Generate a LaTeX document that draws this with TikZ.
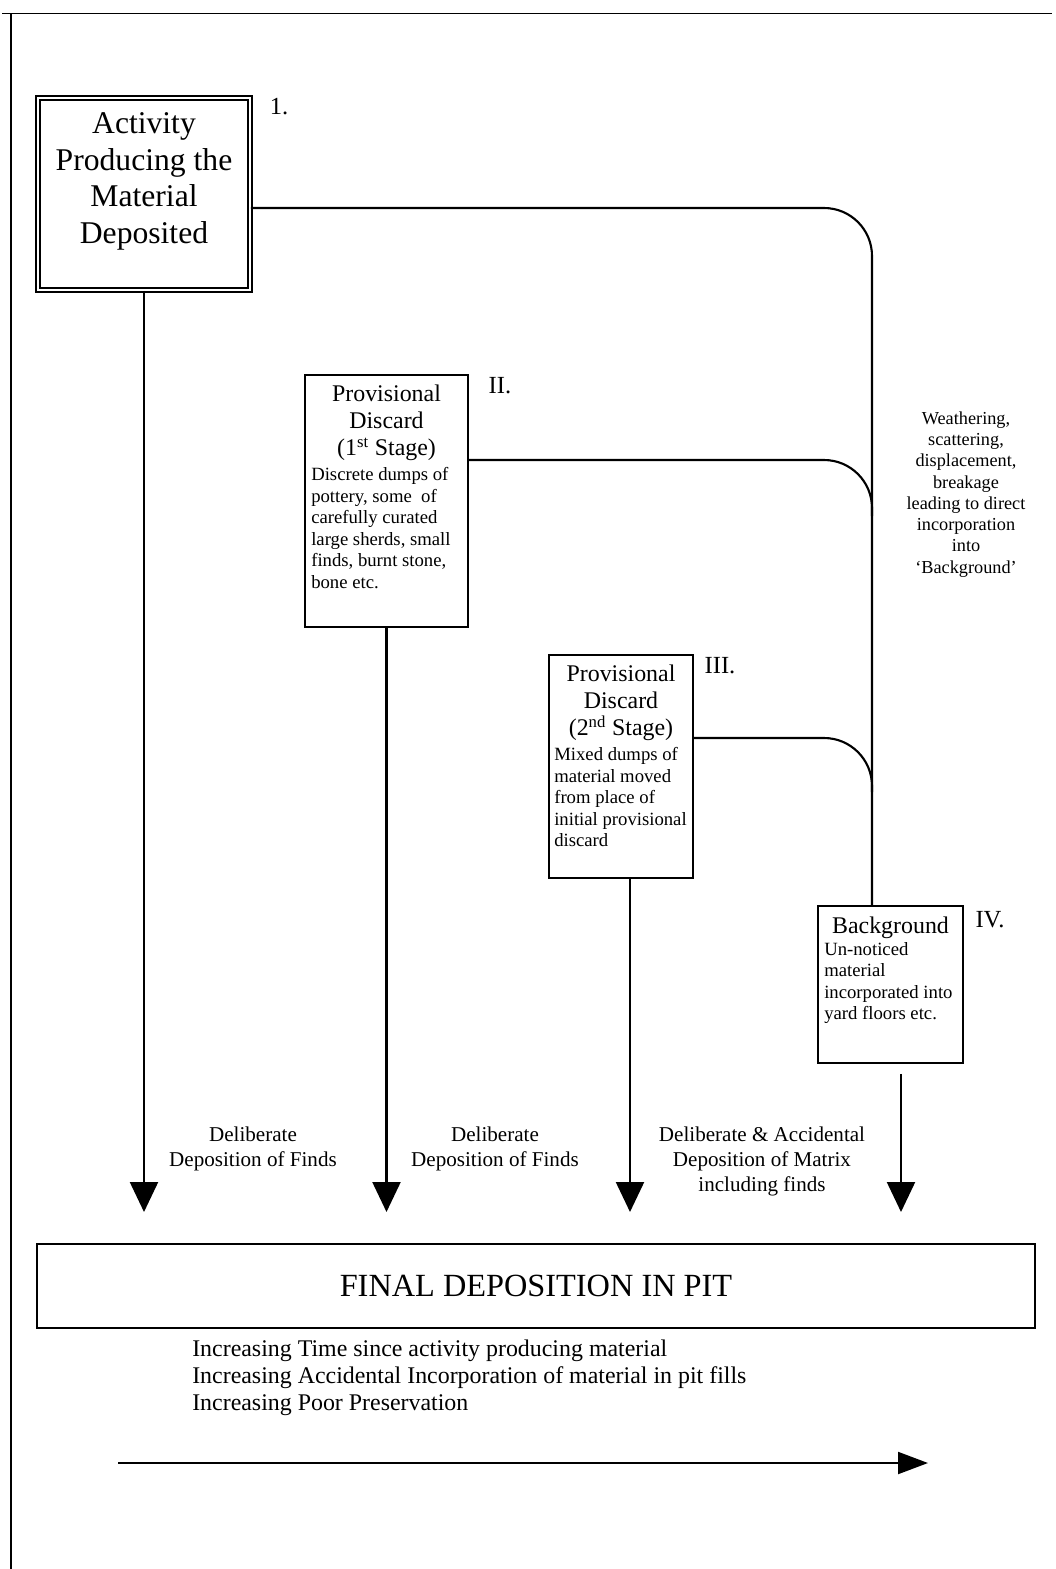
\documentclass[tikz,border=0pt]{standalone}
\usepackage{fontspec}
\setmainfont{Liberation Serif}
\usepackage{tikz}
\usetikzlibrary{calc,positioning,arrows.meta}
\setlength{\parindent}{0pt}

\begin{document}
\begin{tikzpicture}

\tikzset{stagebox/.style={draw,line width=1.4pt,inner sep=0pt,shape=rectangle},
headtext/.style={font=\fontsize{17}{19.5}\selectfont,align=center,inner sep=0pt},
bodytext/.style={font=\fontsize{13.3}{15.3}\selectfont,align=left,inner sep=0pt,anchor=west},
stagelabel/.style={font=\fontsize{17.5}{20}\selectfont,inner sep=0pt},
flowtext/.style={font=\fontsize{15}{17.7}\selectfont,align=center,inner sep=0pt},
feed/.style={line width=1.5pt,rounded corners=1.2cm},
downarrow/.style={line width=1.6pt,-{Triangle[length=0.75cm,width=0.7cm]}},
timearrow/.style={line width=1.5pt,-{Triangle[length=0.75cm,width=0.55cm]}}}

\useasboundingbox (0,0) rectangle (26.375,-39.225);

% Frame
\draw[line width=1.4pt] (0.05,-0.3375) -- (26.3,-0.3375);
\draw[line width=1.2pt] (0.275,-0.3375) -- (0.275,-39.225);

% Stage boxes
\node[stagebox,double,double distance=1.4pt,line width=1.1pt,minimum width=5.3cm,minimum height=4.8cm] (I) at (3.6,-4.85) {};
\node[stagebox,minimum width=4.075cm,minimum height=6.3cm] (II) at (9.6625,-12.525) {};
\node[stagebox,minimum width=3.6cm,minimum height=5.575cm] (III) at (15.525,-19.1625) {};
\node[stagebox,minimum width=3.625cm,minimum height=3.925cm] (IV) at (22.2625,-24.6125) {};
\node[stagebox,minimum width=24.95cm,minimum height=2.1cm,font=\fontsize{23}{26}\selectfont] (pit) at (13.4,-32.15) {FINAL DEPOSITION IN PIT};

% Box texts
\node[headtext,font=\fontsize{22.5}{26}\selectfont] (Ihead) at (3.6,-4.53) {Activity\\ Producing the\\ Material\\ Deposited};
\node[headtext] (IIhead) at (9.6625,-10.57) {Provisional\\ Discard\\ (1\textsuperscript{st} Stage)};
\node[bodytext] (IIbody) at (7.775,-13.2) {Discrete dumps of\\ pottery, some\ \ of\\ carefully curated\\ large sherds, small\\ finds, burnt stone,\\ bone etc.};
\node[headtext] (IIIhead) at (15.525,-17.57) {Provisional\\ Discard\\ (2\textsuperscript{nd} Stage)};
\node[bodytext] (IIIbody) at (13.85,-19.93) {Mixed dumps of\\ material moved\\ from place of\\ initial provisional\\ discard};
\node[headtext] (IVhead) at (22.2625,-23.19) {Background};
\node[bodytext] (IVbody) at (20.6,-24.58) {Un-noticed\\ material\\ incorporated into\\ yard floors etc.};

% Stage numbers
\node[stagelabel] (nI) at (6.975,-2.675) {1.};
\node[stagelabel] (nII) at (12.5,-9.65) {II.};
\node[stagelabel] (nIII) at (18.0,-16.65) {III.};
\node[stagelabel] (nIV) at (24.75,-23.0) {IV.};

% Route into Background
\coordinate (bgtop) at (21.8,-22.65);
\coordinate (jII) at (21.8,-12.9);
\coordinate (jIII) at (21.8,-19.8);
\draw[feed] (I.east |- 0,-5.2) -- (bgtop |- 0,-5.2) -- (bgtop);
\draw[feed] (II.east |- 0,-11.5) -- (jII |- 0,-11.5) -- (jII);
\draw[feed] (III.east |- 0,-18.45) -- (jIII |- 0,-18.45) -- (jIII);
\node[font=\fontsize{13}{15.1}\selectfont,align=center,inner sep=0pt] (weather) at (24.15,-12.36) {Weathering,\\ scattering,\\ displacement,\\ breakage\\ leading to direct\\ incorporation\\ into\\ `Background'};

% Arrows into the pit
\coordinate (f1) at (3.6,-30.3);
\coordinate (f2) at (9.6625,-30.3);
\coordinate (f3) at (15.75,-30.3);
\coordinate (f4) at (22.525,-30.3);
\draw[downarrow] (I.south) -- (f1);
\draw[downarrow] (II.south) -- (f2);
\draw[downarrow] (III.south -| f3) -- (f3);
\draw[downarrow] ($(IV.south -| f4)+(0,-0.25)$) -- (f4);
\node[flowtext] (dep1) at (6.325,-28.72) {Deliberate\\ Deposition of Finds};
\node[flowtext] (dep2) at (12.375,-28.72) {Deliberate\\ Deposition of Finds};
\node[flowtext] (dep3) at (19.05,-29.04) {Deliberate \& Accidental\\ Deposition of Matrix\\ including finds};

% Trend
\node[font=\fontsize{17}{19.2}\selectfont,align=left,inner sep=0pt,anchor=west] (trend) at (4.8,-34.45) {Increasing Time since activity producing material\\ Increasing Accidental Incorporation of material in pit fills\\ Increasing Poor Preservation};
\coordinate (tstart) at (2.95,-36.575);
\coordinate (tend) at (23.2,-36.575);
\draw[timearrow] (tstart) -- (tend);

\end{tikzpicture}
\end{document}
